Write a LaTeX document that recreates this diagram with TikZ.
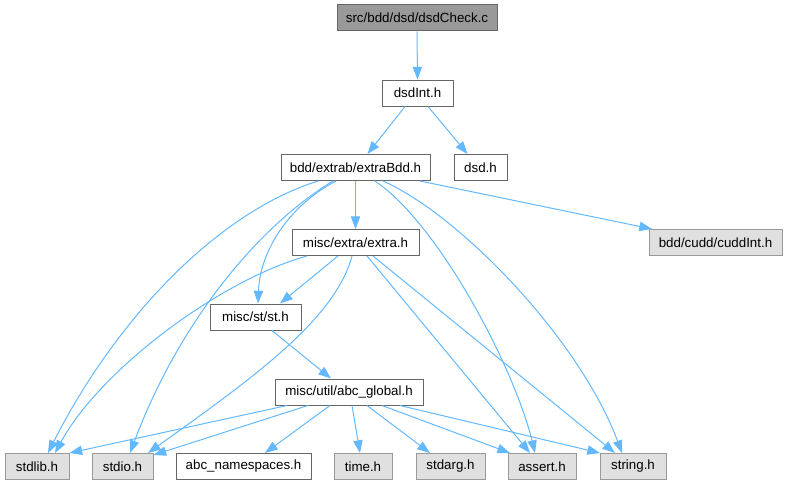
\documentclass[tikz,border=0pt]{standalone}
\usepackage{fontspec}
\setmainfont{Liberation Sans}
\usetikzlibrary{arrows.meta,calc}
\definecolor{edgec}{HTML}{63B8FF}
\definecolor{bordc}{HTML}{666666}
\definecolor{sysborder}{HTML}{999999}
\definecolor{sysfill}{HTML}{E0E0E0}
\definecolor{topfill}{HTML}{999999}
\tikzset{
  filebox/.style={draw=bordc, fill=white, line width=0.75pt, rectangle, inner sep=0pt,
    minimum height=19.5pt, minimum width=#1*0.75pt, font=\fontsize{10}{12}\selectfont},
  sysbox/.style={filebox=#1, draw=sysborder, fill=sysfill},
  topbox/.style={filebox=#1, fill=topfill},
  dep/.style={draw=edgec, line width=0.75pt, -{Triangle[length=9.5pt,width=7pt]}},
}
\begin{document}
\begin{tikzpicture}[x=0.75pt,y=-0.75pt]
\useasboundingbox (0,0) rectangle (787,485);
% nodes
\node[topbox=160] (top) at (417,18) {src/bdd/dsd/dsdCheck.c};
\node[filebox=71] (dsdint) at (417.5,93) {dsdInt.h};
\node[filebox=149] (ebdd) at (355.5,167.5) {bdd/extrab/extraBdd.h};
\node[filebox=53] (dsd) at (480.5,167.5) {dsd.h};
\node[sysbox=133] (cudd) at (715.5,242.5) {bdd/cudd/cuddInt.h};
\node[filebox=127] (extra) at (355.5,242.5) {misc/extra/extra.h};
\node[filebox=91] (st) at (255.5,317) {misc/st/st.h};
\node[filebox=148] (abcg) at (349,392) {misc/util/abc\_global.h};
\node[sysbox=64] (stdlib) at (37,466.5) {stdlib.h};
\node[sysbox=61] (stdio) at (122.5,466.5) {stdio.h};
\node[filebox=135] (abcns) at (243.5,466.5) {abc\_namespaces.h};
\node[sysbox=58] (time) at (363,466.5) {time.h};
\node[sysbox=69] (stdarg) at (450.5,466.5) {stdarg.h};
\node[sysbox=68] (assert) at (542,466.5) {assert.h};
\node[sysbox=66] (string) at (633,466.5) {string.h};
% edges
\draw[dep] (top.south) -- (dsdint.north);
\draw[dep] ($(dsdint.south)+(-12.5,0)$) -- ($(ebdd.north)+(12,0)$);
\draw[dep] ($(dsdint.south)+(10.5,0)$) -- ($(dsd.north)+(-13,0)$);
\draw[dep] ($(ebdd.south)+(64.5,0)$) -- ($(cudd.north)+(-63.5,0)$);
\draw[dep] (ebdd.south) -- (extra.north);
\draw[dep] ($(ebdd.south)+(-37.5,0)$) .. controls (210,215) and (110,330) .. ($(stdlib.north)+(11,0)$);
\draw[dep] ($(ebdd.south)+(-22.5,0)$) .. controls (260,225) and (180,320) .. ($(stdio.north)+(7.5,0)$);
\draw[dep] ($(ebdd.south)+(-19.5,0)$) .. controls (290,205) and (260,250) .. ($(st.north)+(2.5,0)$);
\draw[dep] ($(ebdd.south)+(19.5,0)$) .. controls (440,225) and (515,370) .. ($(assert.north)+(-7,0)$);
\draw[dep] ($(ebdd.south)+(27.5,0)$) .. controls (460,215) and (580,340) .. ($(string.north)+(-11,0)$);
\draw[dep] ($(extra.south)+(-17.5,0)$) -- ($(st.north)+(24.5,0)$);
\draw[dep] ($(extra.south)+(-48.5,0)$) .. controls (220,280) and (100,370) .. ($(stdlib.north)+(18,0)$);
\draw[dep] ($(extra.south)+(-3.5,0)$) .. controls (335,320) and (250,380) .. ($(stdio.north)+(25.5,0)$);
\draw[dep] ($(extra.south)+(11.5,0)$) -- ($(assert.north)+(-12,0)$);
\draw[dep] ($(extra.south)+(17.5,0)$) -- ($(string.north)+(-18,0)$);
\draw[dep] ($(st.south)+(16.5,0)$) -- ($(abcg.north)+(-18,0)$);
\draw[dep] ($(abcg.south)+(-62,0)$) -- (stdlib.north east);
\draw[dep] ($(abcg.south)+(-41,0)$) -- ($(stdio.north east)+(0,2)$);
\draw[dep] ($(abcg.south)+(-19,0)$) -- ($(abcns.north)+(21.5,0)$);
\draw[dep] ($(abcg.south)+(3,0)$) -- ($(time.north)+(-3,0)$);
\draw[dep] ($(abcg.south)+(18,0)$) -- ($(stdarg.north)+(-20.5,0)$);
\draw[dep] ($(abcg.south)+(33,0)$) -- ($(assert.north)+(-32,0)$);
\draw[dep] ($(abcg.south)+(51,0)$) -- ($(string.north)+(-33,0)$);
\end{tikzpicture}
\end{document}
